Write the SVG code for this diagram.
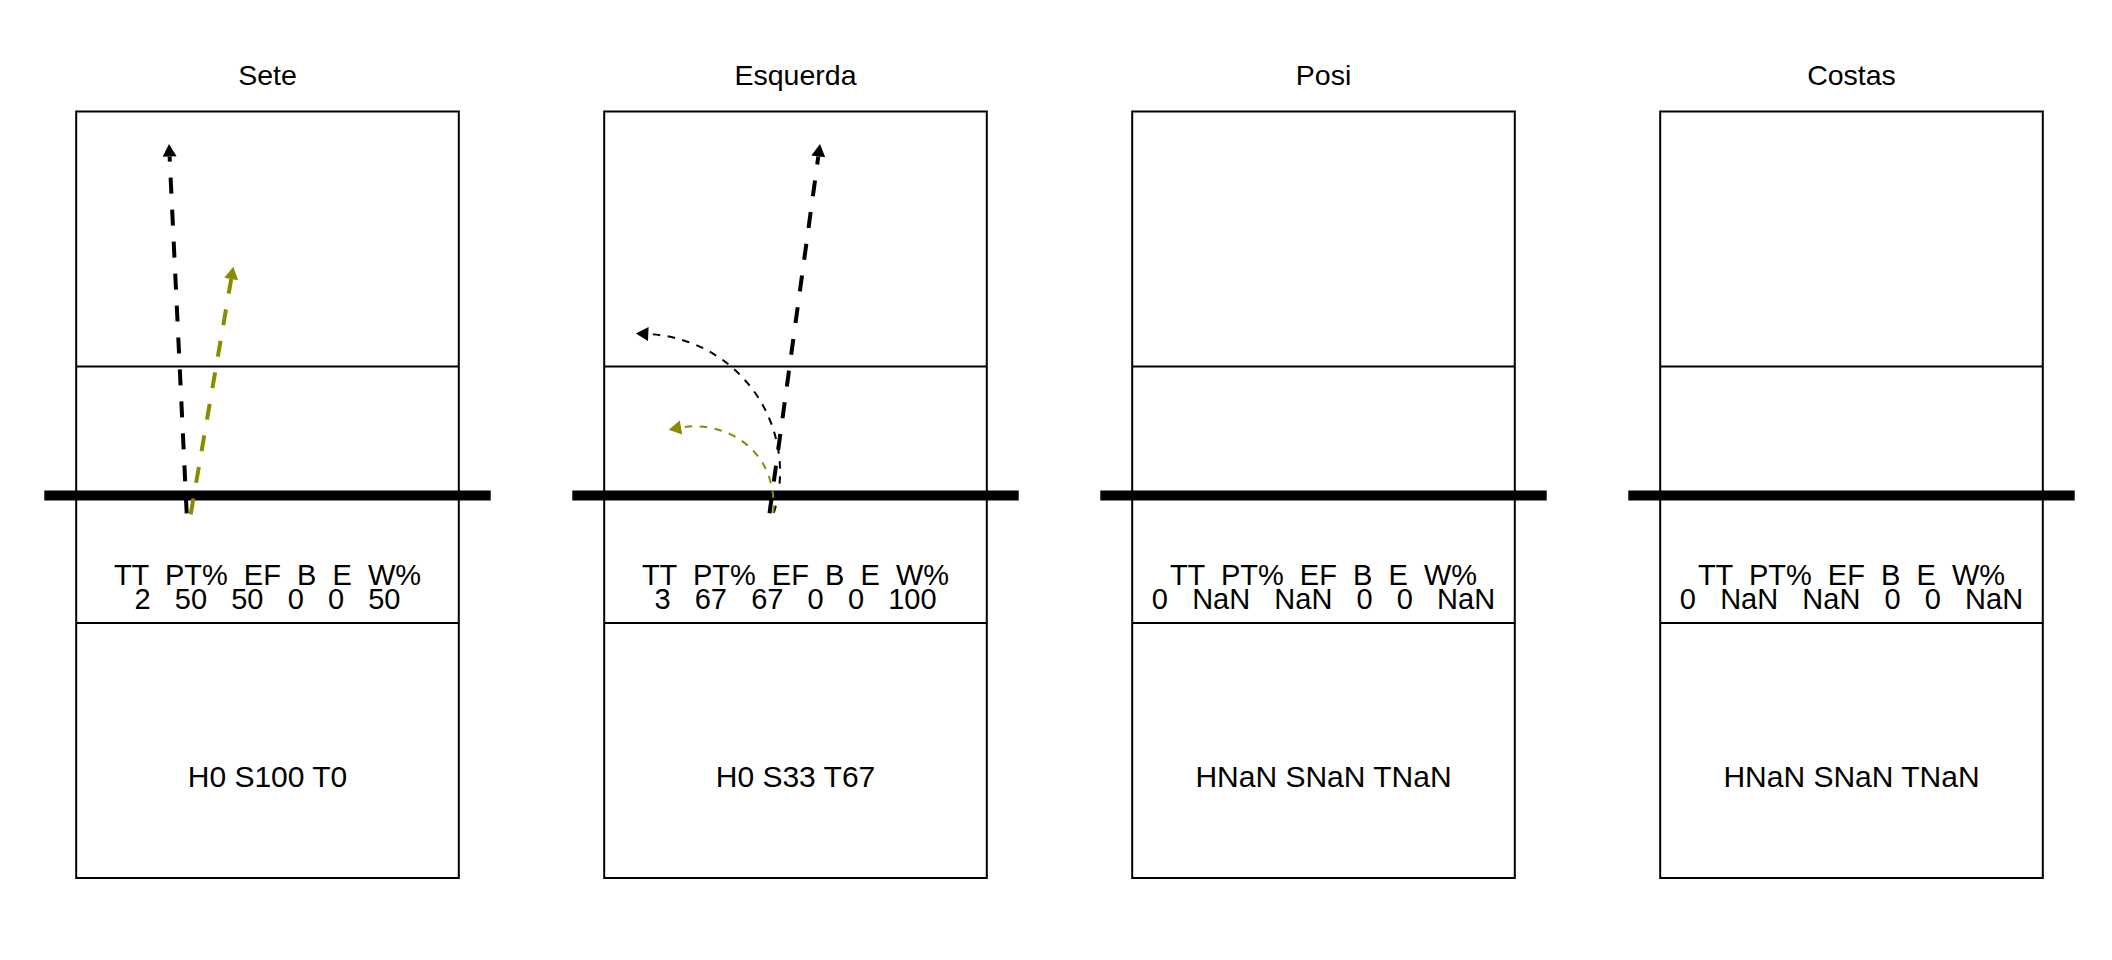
<svg xmlns="http://www.w3.org/2000/svg" width="2112" height="960" viewBox="0 0 2112 960">
<style>
text{font-family:"Liberation Sans",Arial,sans-serif;fill:#000;text-anchor:middle;white-space:pre}
.title{font-size:28.5px}
.stat{font-size:29px}
.hst{font-size:30px}
.court{fill:none;stroke:#000;stroke-width:2}
.line{stroke:#000;stroke-width:2}
.net{stroke:#000;stroke-width:10}
.thick{fill:none;stroke-width:4;stroke-dasharray:16 16;stroke-linecap:butt}
.thin{fill:none;stroke-width:2;stroke-dasharray:7.5 7.5;stroke-linecap:butt}
.k{stroke:#000}
.o{stroke:#8B8B00}
</style>
<defs>
<marker id="ak" markerUnits="userSpaceOnUse" viewBox="-1 -8 15 16" refX="0" refY="0" markerWidth="15" markerHeight="16" orient="auto"><path d="M0,-7 L12.5,0 L0,7 Z" fill="#000"/></marker>
<marker id="ao" markerUnits="userSpaceOnUse" viewBox="-1 -8 15 16" refX="0" refY="0" markerWidth="15" markerHeight="16" orient="auto"><path d="M0,-7 L12.5,0 L0,7 Z" fill="#8B8B00"/></marker>
</defs>
<rect width="2112" height="960" fill="#fff"/>

<g id="panel-sete">
<text class="title" x="267.5" y="85">Sete</text>
<rect class="court" x="76.2" y="111.5" width="382.6" height="766.5"/>
<line class="line" x1="76.2" y1="366.5" x2="458.8" y2="366.5"/>
<line class="line" x1="76.2" y1="623" x2="458.8" y2="623"/>
<line class="net" x1="44.3" y1="495.5" x2="490.7" y2="495.5"/>
<text class="stat" xml:space="preserve"><tspan x="267.5" y="585">TT  PT%  EF  B  E  W%</tspan><tspan x="267.5" y="609">2   50   50   0   0   50</tspan></text>
<text class="hst" x="267.5" y="787">H0 S100 T0</text>
</g>

<g id="panel-esquerda">
<text class="title" x="795.5" y="85">Esquerda</text>
<rect class="court" x="604.2" y="111.5" width="382.6" height="766.5"/>
<line class="line" x1="604.2" y1="366.5" x2="986.8" y2="366.5"/>
<line class="line" x1="604.2" y1="623" x2="986.8" y2="623"/>
<line class="net" x1="572.3" y1="495.5" x2="1018.7" y2="495.5"/>
<text class="stat" xml:space="preserve"><tspan x="795.5" y="585">TT  PT%  EF  B  E  W%</tspan><tspan x="795.5" y="609">3   67   67   0   0   100</tspan></text>
<text class="hst" x="795.5" y="787">H0 S33 T67</text>
</g>

<g id="panel-posi">
<text class="title" x="1323.5" y="85">Posi</text>
<rect class="court" x="1132.2" y="111.5" width="382.6" height="766.5"/>
<line class="line" x1="1132.2" y1="366.5" x2="1514.8" y2="366.5"/>
<line class="line" x1="1132.2" y1="623" x2="1514.8" y2="623"/>
<line class="net" x1="1100.3" y1="495.5" x2="1546.7" y2="495.5"/>
<text class="stat" xml:space="preserve"><tspan x="1323.5" y="585">TT  PT%  EF  B  E  W%</tspan><tspan x="1323.5" y="609">0   NaN   NaN   0   0   NaN</tspan></text>
<text class="hst" x="1323.5" y="787">HNaN SNaN TNaN</text>
</g>

<g id="panel-costas">
<text class="title" x="1851.5" y="85">Costas</text>
<rect class="court" x="1660.2" y="111.5" width="382.6" height="766.5"/>
<line class="line" x1="1660.2" y1="366.5" x2="2042.8" y2="366.5"/>
<line class="line" x1="1660.2" y1="623" x2="2042.8" y2="623"/>
<line class="net" x1="1628.3" y1="495.5" x2="2074.7" y2="495.5"/>
<text class="stat" xml:space="preserve"><tspan x="1851.5" y="585">TT  PT%  EF  B  E  W%</tspan><tspan x="1851.5" y="609">0   NaN   NaN   0   0   NaN</tspan></text>
<text class="hst" x="1851.5" y="787">HNaN SNaN TNaN</text>
</g>

<g id="connectors">
<path class="thick k" d="M186.7,513.3 L169.6,156.5" marker-end="url(#ak)"/>
<path class="thick o" d="M190.7,514.3 L231.2,279" marker-end="url(#ao)"/>
<path class="thick k" d="M769.5,513.3 L818.3,156.4" marker-end="url(#ak)"/>
<path class="thin k" d="M773.8,513 A138,138 0 0 0 648.3,334.1" marker-end="url(#ak)"/>
<path class="thin o" d="M773.3,513 C778,447 722,420 681,427.5" marker-end="url(#ao)"/>
</g>
</svg>
